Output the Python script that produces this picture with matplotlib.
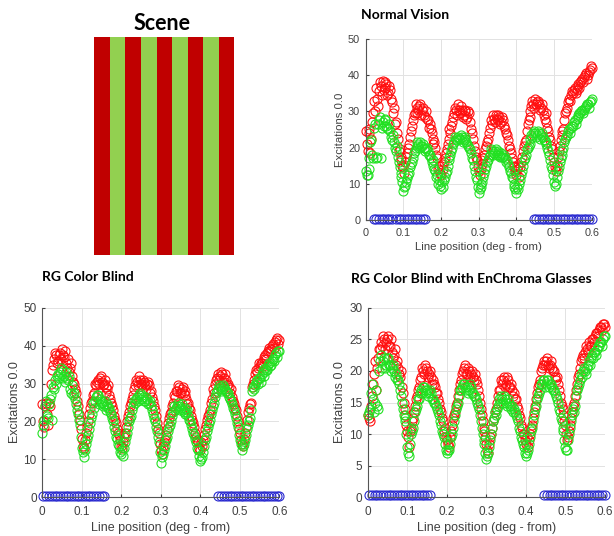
import matplotlib.pyplot as plt

# sample positions along the line (deg - from), two interleaved rows of samples
line_pos = [
    0.000, 0.005, 0.010, 0.015, 0.020, 0.025, 0.030, 0.035, 0.040, 0.045,
    0.050, 0.055, 0.060, 0.065, 0.070, 0.075, 0.080, 0.085, 0.090, 0.095,
    0.100, 0.105, 0.110, 0.115, 0.120, 0.125, 0.130, 0.135, 0.140, 0.145,
    0.150, 0.155, 0.160, 0.165, 0.170, 0.175, 0.180, 0.185, 0.190, 0.195,
    0.200, 0.205, 0.210, 0.215, 0.220, 0.225, 0.230, 0.235, 0.240, 0.245,
    0.250, 0.255, 0.260, 0.265, 0.270, 0.275, 0.280, 0.285, 0.290, 0.295,
    0.300, 0.305, 0.310, 0.315, 0.320, 0.325, 0.330, 0.335, 0.340, 0.345,
    0.350, 0.355, 0.360, 0.365, 0.370, 0.375, 0.380, 0.385, 0.390, 0.395,
    0.400, 0.405, 0.410, 0.415, 0.420, 0.425, 0.430, 0.435, 0.440, 0.445,
    0.450, 0.455, 0.460, 0.465, 0.470, 0.475, 0.480, 0.485, 0.490, 0.495,
    0.500, 0.505, 0.510, 0.515, 0.520, 0.525, 0.530, 0.535, 0.540, 0.545,
    0.550, 0.555, 0.560, 0.565, 0.570, 0.575, 0.580, 0.585, 0.590, 0.595,
    0.600,
]
line_pos_b = [
    0.0025, 0.0075, 0.0125, 0.0175, 0.0225, 0.0275, 0.0325, 0.0375, 0.0425, 0.0475,
    0.0525, 0.0575, 0.0625, 0.0675, 0.0725, 0.0775, 0.0825, 0.0875, 0.0925, 0.0975,
    0.1025, 0.1075, 0.1125, 0.1175, 0.1225, 0.1275, 0.1325, 0.1375, 0.1425, 0.1475,
    0.1525, 0.1575, 0.1625, 0.1675, 0.1725, 0.1775, 0.1825, 0.1875, 0.1925, 0.1975,
    0.2025, 0.2075, 0.2125, 0.2175, 0.2225, 0.2275, 0.2325, 0.2375, 0.2425, 0.2475,
    0.2525, 0.2575, 0.2625, 0.2675, 0.2725, 0.2775, 0.2825, 0.2875, 0.2925, 0.2975,
    0.3025, 0.3075, 0.3125, 0.3175, 0.3225, 0.3275, 0.3325, 0.3375, 0.3425, 0.3475,
    0.3525, 0.3575, 0.3625, 0.3675, 0.3725, 0.3775, 0.3825, 0.3875, 0.3925, 0.3975,
    0.4025, 0.4075, 0.4125, 0.4175, 0.4225, 0.4275, 0.4325, 0.4375, 0.4425, 0.4475,
    0.4525, 0.4575, 0.4625, 0.4675, 0.4725, 0.4775, 0.4825, 0.4875, 0.4925, 0.4975,
    0.5025, 0.5075, 0.5125, 0.5175, 0.5225, 0.5275, 0.5325, 0.5375, 0.5425, 0.5475,
    0.5525, 0.5575, 0.5625, 0.5675, 0.5725, 0.5775, 0.5825, 0.5875, 0.5925, 0.5975,
]

# normal vision: L (red) and M (green) cone excitations
nv_red = [
    24.5, 19.0, 24.0, 22.5, 29.5, 30.0, 33.5, 35.5, 37.0, 38.5,
    36.5, 37.5, 35.0, 36.0, 32.5, 31.0, 27.0, 22.5, 19.5, 16.5,
    14.5, 16.0, 18.5, 21.0, 24.5, 27.5, 29.5, 31.0, 30.5, 32.0,
    30.5, 29.0, 30.0, 27.5, 26.5, 24.0, 22.5, 20.0, 17.0, 15.0,
    12.5, 14.0, 17.0, 19.5, 22.5, 24.0, 27.0, 29.5, 30.5, 32.0,
    29.5, 30.5, 29.0, 30.0, 28.5, 29.5, 25.0, 22.5, 19.0, 16.5,
    13.5, 14.0, 15.5, 18.0, 20.5, 22.5, 25.5, 26.5, 28.0, 29.0,
    27.5, 28.5, 27.0, 27.5, 25.0, 23.5, 20.5, 18.5, 16.0, 14.5,
    12.5, 15.0, 14.5, 17.5, 20.5, 22.0, 26.5, 28.5, 31.5, 32.0,
    33.5, 32.5, 32.0, 31.0, 30.5, 28.0, 27.0, 24.5, 22.0, 19.5,
    16.0, 13.5, 17.5, 20.5, 23.5, 25.0, 29.5, 31.0, 33.5, 34.5,
    35.0, 36.5, 36.0, 37.5, 38.0, 39.0, 39.5, 40.5, 40.0, 41.5,
    42.0,
]
nv_red_b = [
    21.0, 25.0, 18.5, 27.0, 33.0, 36.5, 31.5, 38.0, 34.5, 36.0,
    38.0, 34.5, 37.0, 33.5, 29.5, 26.5, 24.0, 19.0, 17.5, 15.0,
    13.0, 17.5, 20.0, 23.0, 26.0, 29.0, 32.0, 29.5, 31.5, 29.0,
    31.0, 28.5, 28.0, 25.5, 25.0, 21.0, 21.5, 18.0, 14.0, 13.0,
    15.5, 16.0, 18.5, 21.0, 25.0, 26.0, 28.5, 31.0, 29.0, 30.5,
    31.5, 28.5, 30.5, 28.0, 30.0, 27.0, 24.0, 20.5, 17.5, 14.5,
    12.5, 16.5, 17.0, 19.5, 21.5, 24.0, 27.5, 29.0, 27.0, 28.0,
    29.0, 26.5, 28.5, 26.0, 24.0, 22.0, 19.5, 17.0, 15.0, 13.5,
    14.0, 12.0, 16.0, 19.0, 21.5, 24.5, 27.5, 30.0, 33.0, 31.0,
    32.0, 33.0, 30.5, 32.0, 29.0, 29.5, 25.5, 23.0, 20.5, 17.5,
    14.5, 15.0, 19.0, 22.0, 24.5, 27.5, 30.0, 32.5, 33.0, 35.5,
    36.0, 35.0, 37.0, 36.5, 38.5, 38.0, 40.0, 39.0, 41.0, 42.5,
]
nv_green = [
    13.5, 12.5, 17.0, 22.0, 17.0, 26.5, 17.5, 27.5, 17.0, 27.0,
    27.5, 26.0, 25.0, 24.5, 22.0, 21.5, 19.0, 17.5, 14.5, 12.0,
    8.0, 9.5, 11.5, 13.0, 15.5, 17.0, 19.0, 20.5, 21.0, 21.5,
    20.5, 20.0, 19.5, 19.0, 18.0, 16.0, 15.0, 13.5, 12.5, 11.0,
    8.5, 9.0, 12.0, 13.5, 16.5, 18.0, 20.0, 21.5, 22.5, 23.0,
    22.5, 23.0, 22.0, 22.5, 21.0, 20.0, 18.5, 16.5, 13.5, 11.0,
    7.5, 9.0, 10.5, 13.0, 15.0, 16.5, 18.0, 19.0, 18.5, 19.5,
    18.5, 18.0, 18.5, 17.5, 17.0, 16.5, 14.5, 13.0, 11.5, 10.0,
    7.5, 8.5, 11.0, 13.5, 16.5, 18.0, 20.0, 21.0, 23.5, 24.0,
    24.0, 23.5, 24.0, 23.5, 23.0, 22.0, 21.0, 19.0, 16.5, 14.0,
    10.5, 10.0, 13.5, 16.0, 18.0, 20.0, 22.5, 23.5, 25.0, 25.5,
    26.0, 27.5, 28.0, 29.0, 29.5, 30.5, 30.5, 31.5, 32.0, 32.5,
    33.5,
]
nv_green_b = [
    12.5, 14.0, 21.5, 18.0, 25.5, 17.0, 26.5, 28.5, 25.5, 26.0,
    28.0, 25.5, 26.5, 23.0, 23.5, 20.0, 20.5, 16.0, 13.0, 10.5,
    9.0, 10.5, 12.5, 14.5, 16.0, 18.5, 20.0, 21.5, 20.0, 20.5,
    21.0, 19.0, 20.0, 18.0, 17.0, 16.5, 14.0, 12.0, 10.0, 9.5,
    10.5, 11.0, 13.0, 15.0, 17.5, 19.0, 21.0, 23.0, 22.0, 22.5,
    23.5, 21.5, 23.0, 21.5, 20.5, 19.5, 17.0, 15.0, 12.0, 9.0,
    8.5, 10.0, 12.0, 14.0, 16.0, 17.5, 19.5, 18.0, 19.0, 18.0,
    19.0, 17.5, 17.5, 18.0, 16.0, 15.5, 13.5, 12.0, 9.0, 8.5,
    9.0, 10.0, 12.5, 15.0, 17.0, 19.5, 20.5, 22.5, 23.0, 24.5,
    23.0, 24.5, 22.5, 24.0, 22.0, 21.5, 20.0, 18.0, 15.0, 12.5,
    9.5, 12.0, 14.5, 17.0, 19.0, 21.5, 23.0, 24.5, 24.0, 26.0,
    27.0, 26.5, 28.5, 29.5, 30.0, 29.5, 31.0, 32.0, 31.0, 33.0,
]

# red-green colour blind
cb_red = [
    24.5, 18.5, 25.0, 19.0, 24.0, 33.5, 36.5, 37.5, 36.0, 38.0,
    39.0, 37.0, 35.5, 36.5, 34.0, 32.0, 30.0, 27.5, 24.0, 20.5,
    15.5, 13.0, 17.0, 20.0, 23.5, 25.5, 27.5, 29.5, 31.0, 31.5,
    30.5, 30.0, 29.0, 28.5, 27.0, 25.0, 23.0, 20.5, 18.0, 16.5,
    13.5, 14.5, 17.0, 20.0, 22.5, 25.0, 27.0, 29.5, 30.5, 32.0,
    30.0, 31.0, 29.5, 30.0, 29.5, 28.0, 25.5, 23.0, 19.5, 17.0,
    12.5, 13.5, 15.0, 18.0, 21.0, 22.5, 25.0, 26.5, 28.0, 29.0,
    27.5, 29.0, 27.0, 26.0, 25.0, 23.0, 20.5, 18.5, 16.0, 14.5,
    12.5, 13.5, 16.5, 19.0, 21.5, 23.0, 26.0, 27.5, 31.0, 32.5,
    32.0, 32.5, 31.5, 31.0, 30.0, 27.5, 26.5, 24.5, 23.0, 20.0,
    17.0, 14.0, 15.5, 18.5, 22.5, 24.5, 29.0, 31.0, 33.5, 34.0,
    34.5, 35.5, 36.5, 37.5, 38.0, 39.5, 39.0, 40.5, 41.0, 42.0,
    41.5,
]
cb_red_b = [
    20.0, 24.0, 22.0, 25.0, 30.0, 35.0, 38.0, 35.5, 37.5, 36.5,
    37.5, 38.5, 34.0, 33.0, 35.5, 30.5, 28.5, 25.5, 22.0, 18.0,
    13.5, 15.0, 18.5, 22.0, 25.0, 27.0, 30.0, 30.5, 30.0, 32.0,
    29.5, 31.0, 27.5, 29.5, 26.0, 24.0, 21.5, 19.5, 17.0, 15.0,
    13.0, 16.0, 18.5, 21.5, 24.0, 26.0, 28.5, 31.0, 29.5, 31.0,
    29.5, 30.5, 28.5, 30.5, 27.5, 26.5, 24.0, 21.5, 18.0, 14.0,
    11.5, 14.5, 16.5, 19.5, 22.0, 24.0, 27.0, 28.0, 29.5, 27.5,
    28.5, 27.5, 28.0, 24.5, 23.5, 21.5, 19.5, 17.0, 15.0, 13.0,
    14.5, 15.0, 18.0, 20.5, 22.0, 25.0, 28.5, 30.0, 31.5, 31.0,
    33.0, 30.5, 32.5, 29.5, 29.0, 28.5, 25.5, 23.5, 21.5, 18.0,
    15.0, 13.5, 17.0, 20.5, 23.5, 25.0, 30.0, 32.5, 33.0, 35.5,
    35.5, 34.5, 37.0, 36.5, 38.5, 38.5, 40.0, 39.5, 41.5, 40.5,
]
cb_green = [
    17.0, 20.5, 25.5, 21.0, 26.0, 20.5, 28.5, 30.0, 32.5, 33.0,
    31.5, 32.0, 33.0, 31.0, 28.5, 29.5, 27.5, 24.5, 22.0, 19.0,
    13.0, 10.5, 14.0, 16.5, 19.5, 22.0, 23.5, 26.5, 27.0, 26.0,
    25.0, 24.5, 24.0, 24.5, 23.5, 22.0, 20.0, 17.5, 15.5, 13.5,
    11.5, 11.0, 14.5, 17.0, 20.0, 21.5, 24.0, 25.0, 26.5, 27.0,
    26.0, 26.5, 25.5, 26.0, 25.0, 24.0, 22.0, 20.0, 17.5, 14.5,
    9.0, 11.5, 13.5, 16.0, 18.5, 20.0, 22.5, 23.0, 24.0, 24.0,
    23.5, 23.0, 23.5, 22.5, 21.5, 20.0, 18.0, 16.5, 14.5, 12.5,
    9.5, 10.5, 13.5, 16.0, 18.5, 20.5, 23.0, 25.0, 27.5, 28.5,
    29.0, 28.5, 29.0, 28.0, 27.5, 26.0, 24.5, 23.0, 21.0, 18.5,
    15.0, 12.5, 14.0, 16.5, 19.0, 21.0, 28.0, 28.5, 30.5, 30.0,
    31.5, 32.5, 33.0, 34.0, 33.5, 35.5, 35.0, 36.5, 37.5, 37.0,
    38.5,
]
cb_green_b = [
    19.0, 24.0, 21.5, 24.5, 27.0, 29.0, 31.0, 32.0, 31.5, 34.0,
    33.5, 30.5, 31.5, 32.0, 27.5, 27.0, 26.0, 23.0, 20.5, 16.0,
    12.0, 12.5, 15.5, 18.0, 21.0, 25.0, 25.5, 27.0, 24.5, 25.5,
    24.0, 25.5, 23.0, 23.5, 22.5, 21.0, 18.5, 16.0, 14.0, 12.0,
    12.5, 13.0, 16.0, 18.5, 21.0, 23.0, 25.5, 26.0, 25.5, 27.5,
    27.0, 25.5, 26.5, 24.5, 25.5, 23.0, 21.0, 18.5, 16.0, 12.0,
    10.5, 12.5, 15.0, 17.5, 19.0, 21.5, 24.0, 23.5, 25.0, 23.0,
    24.5, 22.5, 22.0, 23.0, 20.5, 19.0, 17.0, 15.5, 13.0, 11.0,
    10.0, 12.0, 15.0, 17.5, 19.5, 22.0, 24.0, 26.5, 28.0, 29.5,
    28.0, 29.5, 28.5, 27.5, 26.5, 25.5, 23.5, 22.0, 19.5, 16.5,
    14.0, 13.5, 15.0, 18.0, 20.0, 23.0, 29.0, 29.5, 31.0, 31.5,
    30.5, 33.5, 32.0, 33.5, 35.0, 34.5, 36.0, 36.0, 38.0, 38.5,
]

# red-green colour blind wearing EnChroma glasses
ec_red = [
    13.0, 12.0, 16.0, 19.5, 17.0, 22.0, 23.5, 24.0, 25.0, 24.5,
    25.5, 24.0, 23.0, 22.5, 21.0, 20.5, 19.0, 17.5, 15.0, 13.0,
    10.5, 8.0, 11.0, 12.5, 14.5, 16.0, 17.5, 19.0, 20.0, 21.0,
    20.0, 19.5, 19.0, 18.5, 17.5, 16.5, 15.0, 13.5, 12.0, 11.0,
    9.0, 8.0, 10.5, 12.5, 13.5, 15.0, 17.0, 18.5, 20.0, 21.0,
    19.5, 20.0, 19.5, 19.0, 19.5, 18.0, 16.0, 14.0, 12.0, 11.0,
    8.5, 7.0, 9.5, 11.0, 12.5, 14.0, 16.0, 17.0, 18.0, 19.0,
    18.0, 18.5, 17.5, 17.0, 16.5, 15.5, 14.0, 12.5, 11.0, 10.0,
    8.5, 8.0, 10.0, 11.5, 13.5, 15.5, 17.5, 18.5, 20.5, 21.5,
    21.5, 21.0, 21.0, 20.5, 20.0, 18.5, 18.0, 16.0, 14.5, 13.0,
    11.5, 9.0, 10.5, 12.5, 14.5, 16.0, 18.0, 19.5, 21.5, 22.5,
    23.0, 23.5, 24.5, 24.0, 25.0, 25.5, 26.0, 26.5, 27.0, 27.5,
    27.0,
]
ec_red_b = [
    12.5, 14.5, 18.0, 21.5, 20.5, 23.5, 24.5, 25.5, 23.5, 25.0,
    24.0, 25.0, 22.0, 23.5, 21.5, 19.5, 20.0, 16.5, 14.0, 11.5,
    9.5, 10.5, 12.0, 13.5, 15.5, 17.0, 18.5, 20.5, 19.5, 20.5,
    19.0, 20.0, 18.0, 18.0, 16.5, 15.5, 14.0, 12.5, 10.5, 9.5,
    8.5, 9.5, 11.5, 13.0, 14.5, 16.0, 18.0, 19.5, 20.5, 19.5,
    20.5, 19.0, 20.0, 18.5, 18.5, 17.0, 15.0, 13.0, 10.5, 9.5,
    7.5, 8.5, 10.0, 12.0, 13.5, 15.0, 17.0, 18.5, 18.5, 17.5,
    19.0, 17.5, 18.0, 16.0, 15.5, 14.5, 13.0, 11.5, 10.0, 9.0,
    9.5, 9.0, 11.0, 12.5, 14.5, 16.5, 18.0, 20.0, 21.0, 21.0,
    22.0, 20.5, 21.5, 20.0, 19.0, 19.0, 17.0, 15.0, 14.0, 12.0,
    10.0, 9.5, 11.5, 13.5, 15.0, 17.0, 19.0, 20.5, 22.0, 22.0,
    24.0, 23.0, 24.0, 25.0, 24.5, 26.0, 25.5, 27.0, 26.5, 27.5,
]
ec_green = [
    13.0, 14.0, 18.0, 13.5, 17.0, 14.0, 21.5, 20.5, 22.0, 21.0,
    22.0, 21.0, 20.5, 20.0, 19.5, 18.5, 17.0, 15.0, 13.0, 12.0,
    8.0, 6.5, 10.0, 11.0, 13.5, 14.5, 15.5, 17.0, 17.5, 17.0,
    17.0, 16.5, 16.5, 15.5, 15.0, 14.0, 13.0, 11.5, 10.0, 8.5,
    7.0, 7.5, 9.5, 11.0, 13.0, 14.5, 16.0, 17.0, 18.0, 17.5,
    17.5, 17.0, 17.5, 16.5, 16.0, 15.0, 14.0, 12.0, 10.0, 8.5,
    6.0, 7.0, 9.0, 11.0, 12.5, 13.0, 14.5, 15.0, 15.5, 16.0,
    15.0, 15.5, 14.5, 14.5, 14.0, 13.0, 12.0, 10.5, 9.0, 8.0,
    6.5, 7.5, 9.5, 11.0, 13.0, 14.5, 16.0, 17.0, 18.0, 18.5,
    18.0, 18.5, 18.0, 17.5, 17.0, 16.0, 15.0, 13.5, 12.0, 10.5,
    8.0, 7.5, 10.0, 12.0, 14.0, 14.5, 17.0, 18.0, 19.5, 20.0,
    20.0, 20.5, 21.5, 22.0, 22.0, 23.0, 23.5, 24.0, 24.5, 25.0,
    25.5,
]
ec_green_b = [
    13.5, 16.5, 15.5, 15.0, 14.5, 20.0, 22.5, 21.5, 20.5, 22.0,
    21.0, 20.0, 21.0, 19.0, 18.5, 18.0, 16.0, 14.0, 12.5, 10.0,
    7.0, 8.5, 10.5, 12.0, 14.0, 15.5, 16.5, 16.5, 17.5, 16.5,
    16.0, 17.0, 15.5, 15.0, 14.5, 13.5, 12.0, 10.5, 9.5, 7.5,
    7.5, 8.5, 10.0, 12.0, 14.0, 15.0, 17.0, 17.5, 18.0, 17.0,
    16.5, 18.0, 16.5, 16.0, 15.5, 14.5, 13.0, 11.0, 9.0, 7.0,
    6.5, 8.0, 10.0, 12.0, 13.5, 14.0, 15.5, 16.0, 15.0, 15.5,
    14.5, 15.0, 14.0, 13.5, 13.5, 12.5, 11.0, 9.5, 8.5, 7.0,
    7.0, 8.5, 10.5, 12.0, 14.0, 15.5, 16.5, 18.0, 18.5, 17.5,
    18.5, 17.5, 18.0, 17.0, 16.5, 15.5, 14.0, 12.5, 11.0, 9.0,
    7.5, 9.0, 11.0, 13.0, 13.5, 16.0, 17.5, 18.5, 19.0, 20.5,
    19.5, 21.0, 21.0, 22.5, 23.0, 22.5, 24.0, 24.5, 24.0, 25.5,
]

# S cone (blue) responses sit near zero
blue_level = 0.4
nv_blue_left = [0.021, 0.028, 0.035, 0.042, 0.049, 0.056, 0.063, 0.069,
                0.081, 0.088, 0.095, 0.102, 0.109, 0.116, 0.123, 0.130,
                0.137, 0.144, 0.151, 0.157]
blue_left = [0.003, 0.010, 0.017, 0.024, 0.031, 0.038, 0.045, 0.052,
             0.059, 0.066, 0.073, 0.080, 0.087, 0.094, 0.101, 0.108,
             0.115, 0.122, 0.129, 0.136, 0.143, 0.150, 0.157]
blue_right = [0.446, 0.453, 0.460, 0.467, 0.474, 0.481, 0.488, 0.495,
              0.502, 0.509, 0.516, 0.523, 0.530, 0.537, 0.544, 0.551,
              0.558, 0.565, 0.572, 0.579, 0.586, 0.593, 0.600]

# the scene: alternating red / green bars
scene_colors = ['#c00000', '#92d050', '#c00000', '#92d050', '#c00000',
                '#92d050', '#c00000', '#92d050', '#c00000']

plt.rcParams['font.family'] = ['Liberation Sans', 'DejaVu Sans']
title_font = dict(family='Lato', weight='bold', color='black')

fig = plt.figure(figsize=(6.14, 5.36), dpi=100)


def draw_panel(rect, red, red_b, green, green_b, blue_x, ymax, ystep, title,
               title_xy, tick_fs, label_fs):
    ax = fig.add_axes(rect)
    mk = dict(linestyle='none', marker='o', mfc='none', ms=6.5, mew=0.8,
              clip_on=False)
    ax.plot(line_pos, red, color='#ff1010', **mk)
    ax.plot(line_pos_b, red_b, color='#ff1010', **mk)
    ax.plot(line_pos, green, color='#22e022', **mk)
    ax.plot(line_pos_b, green_b, color='#22e022', **mk)
    ax.plot(blue_x, [blue_level] * len(blue_x), color='#2a2ad0', **mk)
    ax.set_xlim(0, 0.6)
    ax.set_ylim(0, ymax)
    ax.set_xticks([0, 0.1, 0.2, 0.3, 0.4, 0.5, 0.6])
    ax.set_xticklabels(['0', '0.1', '0.2', '0.3', '0.4', '0.5', '0.6'])
    ax.set_yticks(list(range(0, ymax + 1, ystep)))
    ax.grid(True, color='#e2e2e2', lw=0.7)
    ax.set_axisbelow(True)
    for s in ['top', 'right']:
        ax.spines[s].set_visible(False)
    for s in ['left', 'bottom']:
        ax.spines[s].set_color('#555555')
        ax.spines[s].set_linewidth(0.8)
    ax.tick_params(labelsize=tick_fs, colors='#404040', length=2, direction='in')
    ax.tick_params(axis='x', pad=6)
    ax.tick_params(axis='y', pad=4)
    ax.set_xlabel('Line position (deg - from)', fontsize=label_fs, color='#404040',
                  labelpad=3)
    ax.set_ylabel('Excitations 0.0', fontsize=label_fs, color='#404040', labelpad=2)
    fig.text(title_xy[0], title_xy[1], title, fontsize=10, ha='left', va='center',
             **title_font)
    return ax


# scene stripes
sax = fig.add_axes([0.1536, 0.5243, 0.228, 0.406])
sax.bar(range(len(scene_colors)), 1, width=1.0, color=scene_colors)
sax.set_xlim(-0.5, len(scene_colors) - 0.5)
sax.set_ylim(0, 1)
sax.axis('off')
fig.text(0.264, 1 - 23 / 536, 'Scene', fontsize=15.5, ha='center', va='center',
         **title_font)

draw_panel([0.5956, 0.5896, 0.368, 0.3377], nv_red, nv_red_b, nv_green, nv_green_b,
           nv_blue_left + blue_right, 50, 10, 'Normal Vision',
           (361 / 614, 1 - 15 / 536), 7.8, 8.2)
draw_panel([0.0689, 0.0722, 0.386, 0.3537], cb_red, cb_red_b, cb_green, cb_green_b,
           blue_left + blue_right, 50, 10, 'RG Color Blind',
           (42 / 614, 1 - 277 / 536), 8.5, 9)
draw_panel([0.5993, 0.0722, 0.386, 0.3537], ec_red, ec_red_b, ec_green, ec_green_b,
           blue_left + blue_right, 30, 5, 'RG Color Blind with EnChroma Glasses',
           (351 / 614, 1 - 279 / 536), 8.5, 9)

fig.savefig('out.png', dpi=100)
